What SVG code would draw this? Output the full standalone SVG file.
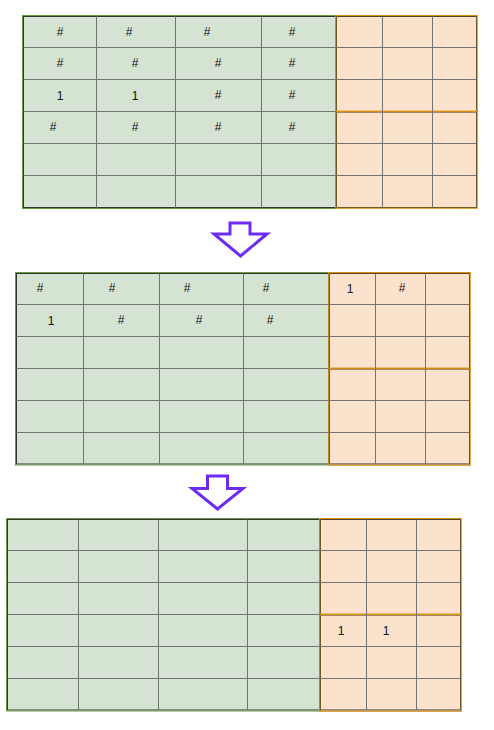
<svg xmlns="http://www.w3.org/2000/svg" width="494" height="730" viewBox="0 0 494 730">
<style>
.g{fill:#d5e3d2;stroke:#333;stroke-width:1}
.go{fill:none;stroke:#6a9a44;stroke-width:1}
.o{fill:#fae2cc;stroke:#333;stroke-width:1}
.oo{fill:none;stroke:#d6900f;stroke-width:1.2}
.grid{fill:none;stroke:#737373;stroke-width:1}
.t{font-family:"Liberation Sans",Arial,sans-serif;font-size:12px;fill:#111;text-anchor:middle}
.arr{fill:#fff;stroke:#6d2cf5;stroke-width:3;stroke-linejoin:miter}
</style>
<g id="table1">
<rect class="g" x="23.5" y="16.5" width="312.5" height="191"/>
<rect class="go" x="22.5" y="15.5" width="314" height="193"/>
<rect class="o" x="336.5" y="16.5" width="140" height="95"/>
<rect class="o" x="336.5" y="112" width="140" height="95.5"/>
<rect class="oo" x="335.8" y="15.6" width="141.4" height="96"/>
<rect class="oo" x="335.8" y="111.2" width="141.4" height="97"/>
<path class="grid" d="M96.5 16.5V207.5M175.5 16.5V207.5M261.5 16.5V207.5M382.5 16.5V207.5M432.5 16.5V207.5M23.5 47.5H476.5M23.5 79.5H476.5M23.5 143.5H476.5M23.5 175.5H476.5M23.5 111.5H336"/>
<text class="t" x="60" y="36">#</text><text class="t" x="129" y="36">#</text><text class="t" x="207" y="36">#</text><text class="t" x="292" y="36">#</text>
<text class="t" x="60" y="67">#</text><text class="t" x="135" y="67">#</text><text class="t" x="218" y="67">#</text><text class="t" x="292" y="67">#</text>
<text class="t" x="60" y="99.5">1</text><text class="t" x="135" y="99.5">1</text><text class="t" x="218" y="99">#</text><text class="t" x="292" y="99">#</text>
<text class="t" x="53" y="131">#</text><text class="t" x="135" y="131">#</text><text class="t" x="218" y="131">#</text><text class="t" x="292" y="131">#</text>
</g>
<g id="table2">
<rect class="g" x="16.5" y="273.5" width="312" height="190.5"/>
<rect class="go" x="15.5" y="272.5" width="313.5" height="192.5"/>
<rect class="o" x="329.5" y="273.5" width="140" height="95"/>
<rect class="o" x="329.5" y="369" width="140" height="95"/>
<rect class="oo" x="328.8" y="272.6" width="141.4" height="96"/>
<rect class="oo" x="328.8" y="368.2" width="141.4" height="97"/>
<path class="grid" d="M83.5 273.5V464M159.5 273.5V464M243.5 273.5V464M375.5 273.5V464M425.5 273.5V464M16.5 304.5H469.5M16.5 336.5H469.5M16.5 400.5H469.5M16.5 432.5H469.5M16.5 368.5H329"/>
<text class="t" x="40" y="292">#</text><text class="t" x="112" y="292">#</text><text class="t" x="187" y="292">#</text><text class="t" x="266" y="292">#</text><text class="t" x="350" y="292.5">1</text><text class="t" x="402" y="292">#</text>
<text class="t" x="51" y="324.5">1</text><text class="t" x="121" y="324">#</text><text class="t" x="199" y="324">#</text><text class="t" x="270" y="324">#</text>
</g>
<g id="table3">
<rect class="g" x="7.5" y="519.5" width="312" height="190.5"/>
<rect class="go" x="6.5" y="518.5" width="313.5" height="192.5"/>
<rect class="o" x="320.5" y="519.5" width="140" height="95"/>
<rect class="o" x="320.5" y="615" width="140" height="95"/>
<rect class="oo" x="319.8" y="518.6" width="141.4" height="96"/>
<rect class="oo" x="319.8" y="614.2" width="141.4" height="97"/>
<path class="grid" d="M78.5 519.5V710M158.5 519.5V710M247.5 519.5V710M366.5 519.5V710M416.5 519.5V710M7.5 550.5H460.5M7.5 582.5H460.5M7.5 646.5H460.5M7.5 678.5H460.5M7.5 614.5H320"/>
<text class="t" x="341" y="635">1</text><text class="t" x="386" y="635">1</text>
</g>
<g id="connectors">
<path class="arr" d="M230 223H250V234H267L240.5 256L214 234H230Z"/>
<path class="arr" d="M207.5 476H227.5V488.5H243L217.5 509L192 488.5H207.5Z"/>
</g>
</svg>
